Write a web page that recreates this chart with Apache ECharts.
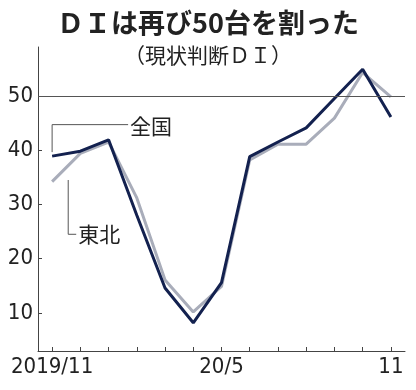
<!DOCTYPE html>
<html><head><meta charset="utf-8">
<script src="https://cdn.jsdelivr.net/npm/echarts@6/dist/echarts.min.js"></script>
<style>html,body{margin:0;padding:0;background:#fff}#c{width:416px;height:390px}</style>
</head><body><div id="c"></div>
<script>
const categories = ['2019/11','12','1','2','3','4','20/5','6','7','8','9','10','11'];
const tickLabels = {0:'2019/11', 6:'20/5', 12:'11'};
const national = [38.9, 39.8, 41.9, 28.0, 14.6, 8.2, 15.6, 38.8, 41.5, 44.1, 49.5, 54.9, 46.1];
const tohoku   = [34.2, 39.4, 41.5, 31.2, 16.1, 10.2, 14.9, 38.2, 41.1, 41.1, 45.9, 54.3, 49.8];
const yTicks = [10, 20, 30, 40, 50];
const titleText = 'ＤＩは再び50台を割った';
const subText = '（現状判断ＤＩ）';

const FONT = '"Noto Sans CJK JP", "Noto Sans", sans-serif';
const NUMFONT = '"Liberation Sans Narrow", "DejaVu Sans Condensed", sans-serif';
const chart = echarts.init(document.getElementById('c'), null, {renderer:'canvas'});
chart.setOption({
  animation: false,
  title: [
    {text: titleText, left: 'center', top: 4, textStyle:{fontFamily: FONT, fontSize: 27, fontWeight: 'bold', color:'#222'}},
    {text: subText, left: 'center', top: 40, textStyle:{fontFamily: FONT, fontSize: 21, fontWeight: 'normal', color:'#222'}}
  ],
  grid: {left: 38, right: 11, top: 47, bottom: 39},
  xAxis: {
    type: 'category', data: categories, boundaryGap: true,
    axisLine: {show: true, lineStyle:{color:'#444', width:1}},
    axisTick: {show: true, alignWithLabel: true, inside: true, length: 4, interval: 0, lineStyle:{color:'#444', width:1}},
    axisLabel: {interval: 0, margin: 5, fontFamily: NUMFONT, fontSize: 22, color:'#222',
      formatter: (v, i) => tickLabels[i] || ''}
  },
  yAxis: {
    type: 'value', min: 3, max: 59,
    axisLine: {show: true, lineStyle:{color:'#444', width:1}},
    axisTick: {show: true, inside: true, length: 4, customValues: yTicks, lineStyle:{color:'#444', width:1}},
    axisLabel: {customValues: yTicks, margin: 5, fontFamily: NUMFONT, fontSize: 22, color:'#222'},
    splitLine: {show: false}
  },
  series: [
    {name:'東北', type:'line', data: tohoku, symbol:'none', lineStyle:{color:'#a9adba', width:3}, z:2},
    {name:'全国', type:'line', data: national, symbol:'none', lineStyle:{color:'#13214f', width:3}, z:3,
      markLine: {silent:true, symbol:['none','none'], label:{show:false},
        lineStyle:{color:'#555', width:1, type:'solid'}, data:[{yAxis:50}]}}
  ]
});

// annotation leader lines (positions from scales)
const p = (xi, yv) => chart.convertToPixel({gridIndex:0}, [xi, yv]);
const n0 = p(0, national[0]);
const labN = p(0, 44.7);
const a0 = p(0, 34.5), a1 = p(1, 24.5);
const tx = a0[0] + (a1[0] - a0[0]) * 0.57;
const lc = '#555';
chart.setOption({graphic: [
  {type:'polyline', shape:{points:[[n0[0], n0[1]-4],[n0[0], labN[1]],[labN[0]+76, labN[1]]]}, style:{stroke:lc, lineWidth:1, fill:null}},
  {type:'text', x: labN[0]+78, y: labN[1]+1, style:{text:'全国', font:'21px '+FONT, fill:'#222', textVerticalAlign:'middle'}},
  {type:'polyline', shape:{points:[[tx, a0[1]],[tx, a1[1]],[tx+8, a1[1]]]}, style:{stroke:lc, lineWidth:1, fill:null}},
  {type:'text', x: tx+10, y: a1[1], style:{text:'東北', font:'21px '+FONT, fill:'#222', textVerticalAlign:'middle'}}
]});
</script></body></html>
